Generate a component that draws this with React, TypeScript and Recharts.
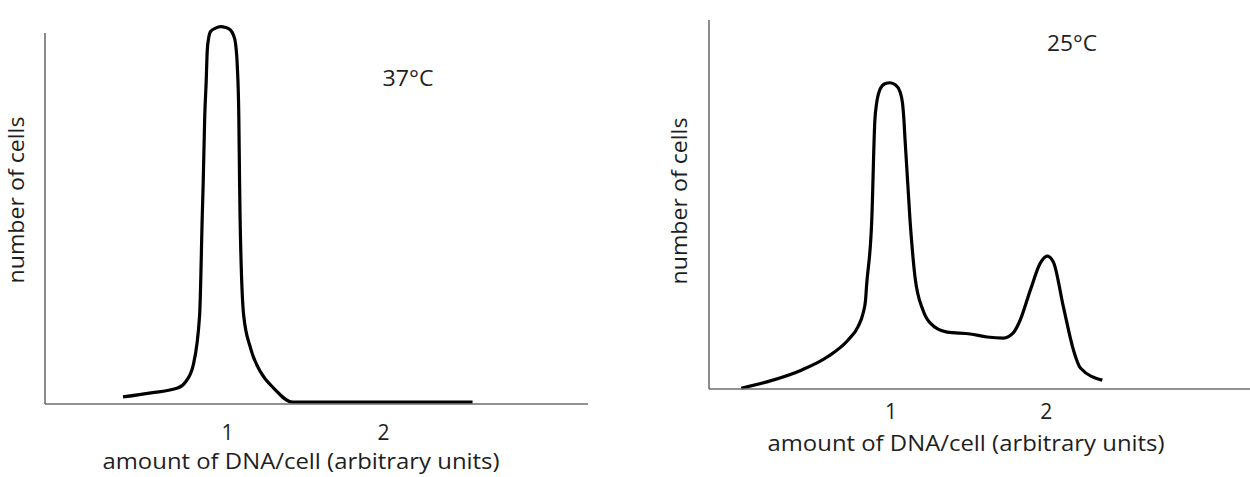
import { LineChart, Line, XAxis, YAxis, ReferenceLine } from 'recharts'

// amount of DNA per cell (x) and number of cells (y, % of axis height)
const dna37 = [0.33, 0.51, 0.68, 0.73, 0.78, 0.821, 0.838, 0.844, 0.854, 0.863, 0.87, 0.878, 0.891, 0.923, 0.955, 0.987, 1.019, 1.038, 1.051, 1.062, 1.072, 1.077, 1.08, 1.103, 1.147, 1.212, 1.295, 1.417, 1.8, 2.2, 2.57]
const cells37 = [1.9, 3.0, 4.3, 5.9, 10.5, 24.0, 50.9, 59.9, 77.9, 86.9, 95.4, 98.4, 100.4, 101.3, 101.7, 101.5, 100.8, 99.4, 97.2, 91.4, 77.9, 59.9, 50.9, 24.0, 15.1, 8.6, 4.3, 0.5, 0.5, 0.5, 0.5]

const dna25 = [0.037, 0.208, 0.424, 0.595, 0.725, 0.789, 0.821, 0.837, 0.843, 0.877, 0.897, 0.908, 0.929, 0.961, 0.994, 1.03, 1.058, 1.075, 1.084, 1.09, 1.123, 1.155, 1.206, 1.252, 1.361, 1.51, 1.619, 1.723, 1.787, 1.832, 1.897, 1.961, 2.006, 2.045, 2.11, 2.174, 2.219, 2.36]
const cells25 = [0.2, 2.0, 5.1, 8.8, 13.3, 16.9, 20.5, 24.1, 27.7, 45.8, 72.9, 77.4, 81.1, 82.7, 83.0, 82.4, 80.6, 77.4, 72.9, 68.3, 45.8, 30.4, 21.4, 17.9, 15.4, 14.9, 14.1, 13.8, 15.2, 18.7, 26.8, 34.1, 36.0, 34.4, 22.2, 10.6, 5.7, 2.4]

const xTicks = [1, 2]
const X_DOMAIN: [number, number] = [-0.17, 3.31]

const FONT = '"Open Sans", sans-serif'
const INK = '#1e1e1e'
const AXIS = '#6e6e6e'
const FS = 21

type PanelProps = {
  xs: number[]
  ys: number[]
  title: string
  titleWidth: number
  marginLeft: number
  marginRight: number
  axisTop: number
  axisBottom: number
  titleX: number
  titleY: number
  xLabelX: number
  xLabelY: number
  yLabelX: number
  yLabelY: number
  tickMargin: number
}

function Panel(p: PanelProps) {
  const data = p.xs.map((x, i) => ({ x, y: p.ys[i] }))
  const span = (p.axisBottom - p.axisTop) * 1.05
  const top = p.axisBottom - span
  return (
    <LineChart
      width={625}
      height={477}
      data={data}
      margin={{ top, right: p.marginRight, bottom: 477 - p.axisBottom - 30, left: p.marginLeft }}
    >
      <XAxis
        type="number"
        dataKey="x"
        domain={X_DOMAIN}
        ticks={xTicks}
        height={30}
        tickLine={false}
        tickSize={0}
        tickMargin={p.tickMargin}
        axisLine={{ stroke: AXIS, strokeWidth: 1.6 }}
        tick={{ fill: INK, fontSize: FS, fontFamily: FONT }}
        allowDataOverflow
      />
      <YAxis type="number" domain={[0, 105]} hide />
      <ReferenceLine
        segment={[{ x: X_DOMAIN[0], y: 0 }, { x: X_DOMAIN[0], y: 100 }]}
        stroke={AXIS}
        strokeWidth={1.6}
        ifOverflow="visible"
      />
      <Line
        type="monotone"
        dataKey="y"
        stroke="#000"
        strokeWidth={3.2}
        dot={false}
        activeDot={false}
        isAnimationActive={false}
      />
      <text
        x={p.titleX}
        y={p.titleY}
        textAnchor="middle"
        fontSize={FS}
        fontFamily={FONT}
        fill={INK}
        textLength={p.titleWidth}
        lengthAdjust="spacingAndGlyphs"
      >
        {p.title}
      </text>
      <text
        x={p.xLabelX}
        y={p.xLabelY}
        textAnchor="middle"
        fontSize={FS}
        fontFamily={FONT}
        fill={INK}
        textLength={397}
        lengthAdjust="spacingAndGlyphs"
      >
        amount of DNA/cell (arbitrary units)
      </text>
      <text
        x={p.yLabelX}
        y={p.yLabelY}
        textAnchor="middle"
        fontSize={FS}
        fontFamily={FONT}
        fill={INK}
        textLength={167}
        lengthAdjust="spacingAndGlyphs"
        transform={`rotate(-90 ${p.yLabelX} ${p.yLabelY})`}
      >
        number of cells
      </text>
    </LineChart>
  )
}

export default function App() {
  return (
    <div style={{ position: 'absolute', left: 0, top: 0, width: 1250, height: 477, background: '#fff', display: 'flex' }}>
      <Panel
        xs={dna37}
        ys={cells37}
        title="37°C"
        titleWidth={51}
        marginLeft={45}
        marginRight={37}
        axisTop={33}
        axisBottom={404}
        titleX={408}
        titleY={86}
        xLabelX={301}
        xLabelY={469}
        yLabelX={24}
        yLabelY={200}
        tickMargin={21}
      />
      <Panel
        xs={dna25}
        ys={cells25}
        title="25°C"
        titleWidth={50}
        marginLeft={84}
        marginRight={0}
        axisTop={20}
        axisBottom={389}
        titleX={447}
        titleY={51}
        xLabelX={341}
        xLabelY={451}
        yLabelX={62}
        yLabelY={201}
        tickMargin={15}
      />
    </div>
  )
}
